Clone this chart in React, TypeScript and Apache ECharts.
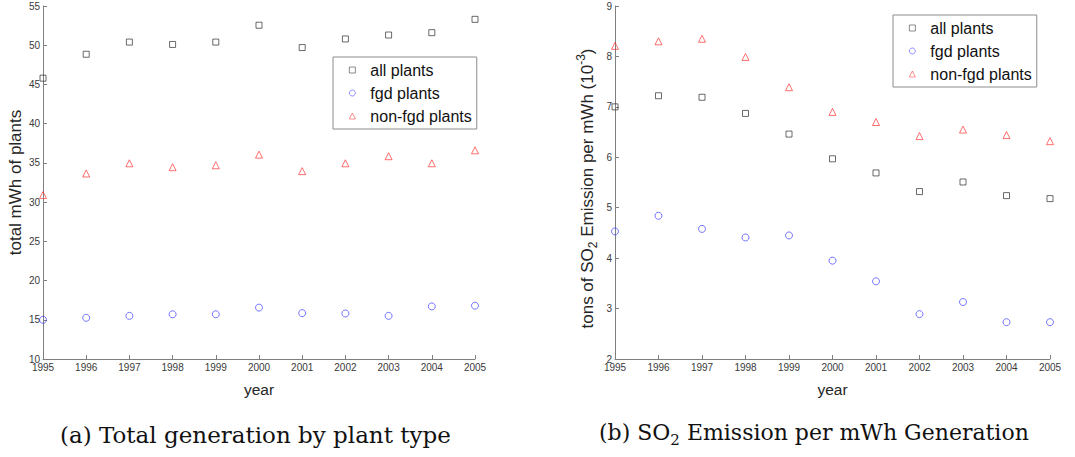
import React, { useEffect, useRef } from "react";
import * as echarts from "echarts";

const years = [1995, 1996, 1997, 1998, 1999, 2000, 2001, 2002, 2003, 2004, 2005];
const genAll = [45.8, 48.85, 50.4, 50.1, 50.4, 52.55, 49.7, 50.8, 51.3, 51.6, 53.3];
const genFgd = [15.0, 15.25, 15.5, 15.7, 15.7, 16.55, 15.85, 15.8, 15.5, 16.7, 16.8];
const genNonFgd = [30.9, 33.65, 34.95, 34.45, 34.7, 36.05, 33.95, 34.95, 35.85, 34.95, 36.6];
const emAll = [7.0, 7.22, 7.19, 6.87, 6.46, 5.97, 5.69, 5.32, 5.51, 5.24, 5.18];
const emFgd = [4.53, 4.84, 4.58, 4.41, 4.45, 3.95, 3.54, 2.89, 3.13, 2.73, 2.73];
const emNonFgd = [8.21, 8.3, 8.35, 7.99, 7.39, 6.9, 6.7, 6.42, 6.55, 6.44, 6.32];
const seriesNames = ["all plants", "fgd plants", "non-fgd plants"];
const leftTicks = { min: 10, max: 55, interval: 5 };
const rightTicks = { min: 2, max: 9, interval: 1 };

const pairs = (ys: number[]) => years.map((y, i) => [y, ys[i]]);

const AXIS_COLOR = "#7f7f7f";
const LABEL_COLOR = "#3a3a3a";
const SANS = "'Liberation Sans', Arial, sans-serif";

const styles = [
  { symbol: "rect", size: 6, color: "#222222" },
  { symbol: "circle", size: 7, color: "#3333ff" },
  { symbol: "triangle", size: 7, color: "#ff2a2a" },
];

function mkSeries(idx: number, datasets: number[][]) {
  return datasets.map((d, k) => ({
    type: "scatter",
    name: seriesNames[k],
    xAxisIndex: idx,
    yAxisIndex: idx,
    symbol: styles[k].symbol,
    symbolSize: styles[k].size,
    itemStyle: {
      color: "rgba(255,255,255,0)",
      borderColor: styles[k].color,
      borderWidth: 0.9,
      opacity: 0.75,
    },
    emphasis: { disabled: true },
    data: pairs(d),
  }));
}

function xAxis(idx: number) {
  return {
    type: "value",
    gridIndex: idx,
    min: 1995,
    max: 2005,
    interval: 1,
    name: "year",
    nameLocation: "middle",
    nameGap: 22,
    nameTextStyle: { fontFamily: SANS, fontSize: 15.5, color: "#262626" },
    axisLine: { lineStyle: { color: AXIS_COLOR, width: 1 } },
    axisTick: { inside: true, length: 4, lineStyle: { color: AXIS_COLOR } },
    axisLabel: {
      margin: 3,
      fontFamily: SANS,
      fontSize: 10,
      color: LABEL_COLOR,
      formatter: (v: number) => String(v),
    },
    splitLine: { show: false },
  };
}

function yAxis(
  idx: number,
  t: { min: number; max: number; interval: number },
  name: string,
  gap: number,
  extra: any
) {
  return {
    type: "value",
    gridIndex: idx,
    min: t.min,
    max: t.max,
    interval: t.interval,
    name,
    nameLocation: "middle",
    nameGap: gap,
    nameRotate: 90,
    nameTextStyle: { fontFamily: SANS, fontSize: 17, color: "#262626", ...extra },
    axisLine: { show: true, lineStyle: { color: AXIS_COLOR, width: 1 } },
    axisTick: { show: true, inside: true, length: 4, lineStyle: { color: AXIS_COLOR } },
    axisLabel: { margin: 3, fontFamily: SANS, fontSize: 10, color: LABEL_COLOR },
    splitLine: { show: false },
  };
}

function legend(left: number, top: number) {
  return {
    left,
    top,
    orient: "vertical",
    data: seriesNames,
    selectedMode: false,
    itemWidth: 6,
    itemHeight: 6,
    itemGap: 7,
    padding: [5, 5, 5, 16],
    itemStyle: { borderWidth: 0.7 },
    borderColor: "#8c8c8c",
    borderWidth: 1,
    backgroundColor: "#ffffff",
    textStyle: {
      fontFamily: SANS,
      fontSize: 16,
      color: "#111111",
      lineHeight: 14,
      padding: [0, 0, 0, 10],
    },
  };
}

export default function App() {
  const ref = useRef<HTMLDivElement>(null);
  useEffect(() => {
    if (!ref.current) return;
    const chart = echarts.init(ref.current, undefined, { renderer: "svg" });
    const serifFont = "'DejaVu Serif', 'Liberation Serif', serif";
    chart.setOption({
      animation: false,
      backgroundColor: "#ffffff",
      grid: [
        { left: 43, top: 6, width: 432, height: 353 },
        { left: 615, top: 6, width: 435, height: 353 },
      ],
      xAxis: [xAxis(0), xAxis(1)],
      yAxis: [
        yAxis(0, leftTicks, "total mWh of plants", 19, {}),
        yAxis(
          1,
          rightTicks,
          "{b|tons of SO}{sub|2}{b| Emission per mWh (10}{sup|-3}{b|)}",
          16,
          {
            padding: [0, 12, 0, 0],
            rich: {
              b: { fontFamily: SANS, fontSize: 17, color: "#262626", lineHeight: 24 },
              sub: { fontFamily: SANS, fontSize: 12, color: "#262626", lineHeight: 12, verticalAlign: "bottom" },
              sup: { fontFamily: SANS, fontSize: 12, color: "#262626", lineHeight: 12, verticalAlign: "top" },
            },
          }
        ),
      ],
      legend: [legend(333, 57), legend(893, 15)],
      series: [
        ...mkSeries(0, [genAll, genFgd, genNonFgd]),
        ...mkSeries(1, [emAll, emFgd, emNonFgd]),
      ],
      graphic: [
        {
          type: "text",
          left: 60,
          top: 423,
          style: {
            text: "(a) Total generation by plant type",
            font: `23px ${serifFont}`,
            fill: "#111111",
          },
        },
        {
          type: "text",
          left: 599,
          top: 421,
          style: {
            text: "{m|(b) SO}{s|2}{m| Emission per mWh Generation}",
            fill: "#111111",
            rich: {
              m: { font: `22px ${serifFont}`, fill: "#111111", lineHeight: 30 },
              s: { font: `15px ${serifFont}`, fill: "#111111", lineHeight: 15, verticalAlign: "bottom" },
            },
          },
        },
      ],
    });
    return () => chart.dispose();
  }, []);
  return (
    <div
      ref={ref}
      style={{ position: "absolute", left: 0, top: 0, width: 1075, height: 457 }}
    />
  );
}
